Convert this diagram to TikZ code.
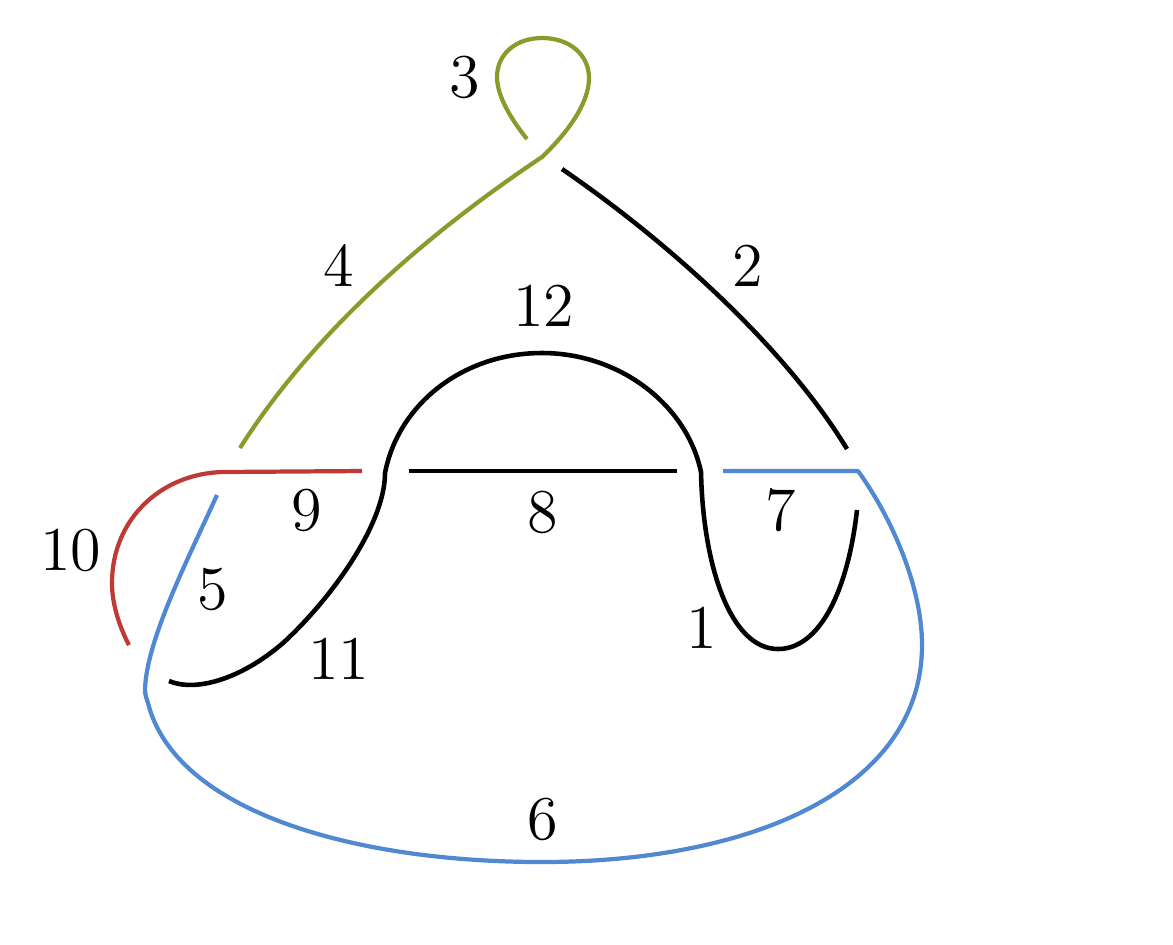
\documentclass[tikz,border=0pt]{standalone}
\definecolor{arcgreen}{HTML}{8A9B2C}
\definecolor{arcred}{HTML}{BD3A35}
\definecolor{arcblue}{HTML}{5088D2}
\font\arcfont=cmr12 at 17.7pt
\tikzset{
  arclabel/.style={font=\arcfont, inner sep=0pt},
  arcline/.style={line width=1.2pt, line join=round},
  blackline/.style={line width=1.3pt, line join=round}
}
\begin{document}
\begin{tikzpicture}[x=0.01cm,y=-0.01cm]
    \useasboundingbox (0,0) rectangle (1173,944);

    % Draw the black arcs
    \draw[blackline] (562,169) .. controls (680,250) and (790,355) .. (847,449);
    \draw[blackline] (409,471) -- (677,471);
    \draw[blackline] (169,681) .. controls (195,692) and (240,680) .. (283,643) .. controls (330,600) and (385,525) .. (385,473) .. controls (398,405) and (462,353) .. (542,353) .. controls (620,353) and (687,405) .. (701,472) .. controls (703,565) and (730,649) .. (778,649) .. controls (820,649) and (848,590) .. (857,510);

    % Draw the green arc
    \draw[arcline, arcgreen] (527,139) .. controls (510,118) and (497,95) .. (497,77) .. controls (497,54) and (516,38) .. (542,38) .. controls (570,38) and (589,55) .. (589,78) .. controls (589,105) and (565,135) .. (542,157) .. controls (410,245) and (305,345) .. (240,448);

    % Draw the red arc
    \draw[arcline, arcred] (362,471) -- (222,472) .. controls (160,474) and (112,520) .. (112,583) .. controls (112,605) and (120,628) .. (129,645);

    % Draw the blue arc
    \draw[arcline, arcblue] (217,495) .. controls (190,555) and (146,640) .. (145,690) .. controls (145,695) and (147,700) .. (148,703) .. controls (175,810) and (350,862) .. (542,862) .. controls (750,862) and (922,790) .. (922,645) .. controls (922,585) and (890,515) .. (858,471) -- (723,471);

    % Draw the labels
    \node[arclabel] (lab1) at (702,628) {1};
    \node[arclabel] (lab2) at (748,266) {2};
    \node[arclabel] (lab3) at (465,77) {3};
    \node[arclabel] (lab4) at (339,266) {4};
    \node[arclabel] (lab5) at (213,589) {5};
    \node[arclabel] (lab6) at (543,819) {6};
    \node[arclabel] (lab7) at (781,510) {7};
    \node[arclabel] (lab8) at (543,512) {8};
    \node[arclabel] (lab9) at (307,510) {9};
    \node[arclabel] (lab10) at (71,550) {10};
    \node[arclabel] (lab11) at (339,659) {11};
    \node[arclabel] (lab12) at (544,306) {12};
\end{tikzpicture}
\end{document}
